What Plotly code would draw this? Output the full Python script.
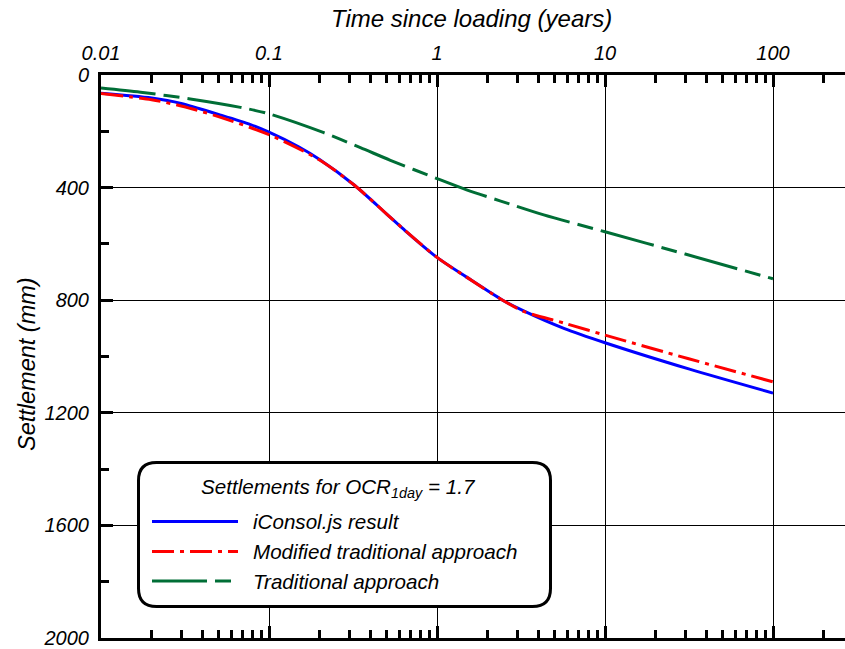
import plotly.graph_objects as go

# ---- data ----
time_iconsol = [0.01, 0.02, 0.03, 0.05, 0.0776, 0.1, 0.15, 0.2, 0.32, 0.5, 0.63, 1.0, 1.5, 2.46, 3.28, 5.69, 10, 31.5, 100]
settle_iconsol = [65, 82, 101, 140, 176, 203, 255, 300, 390, 493, 547, 648, 718, 800, 838, 900, 951, 1044, 1130]

time_modified = [0.01, 0.02, 0.03, 0.05, 0.1, 0.2, 0.32, 0.5, 0.63, 1.0, 1.5, 2.46, 3.28, 5.69, 10, 31.5, 100]
settle_modified = [66, 88, 110, 148, 212, 302, 390, 493, 547, 648, 718, 800, 840, 881, 924, 1008, 1090]

time_traditional = [0.01, 0.0172, 0.034, 0.0676, 0.1, 0.212, 0.35, 0.528, 1.0, 1.5, 2.37, 4.32, 10, 30, 100]
settle_traditional = [46, 61, 85, 115, 138, 205, 258, 303, 368, 408, 447, 497, 557, 636, 724]

x_major = [0.01, 0.1, 1, 10, 100]
x_major_text = ["0.01", "0.1", "1", "10", "100"]
y_major = [0, 400, 800, 1200, 1600, 2000]
y_minor = [200, 600, 1000, 1400, 1800]

series_names = ["iConsol.js result", "Modified traditional approach", "Traditional approach"]
legend_title = "Settlements for OCR<sub>1day</sub> = 1.7"

# ---- layout geometry ----
W, H = 845, 649
ML, MR, MT, MB = 101, 0, 75, 11
PW, PH = W - ML - MR, H - MT - MB
DECADE = 168.0
x_range = [-2, -2 + PW / DECADE]
x_minor = [m * 10 ** e for e in range(-2, 3) for m in range(2, 10) if m * 10 ** e < 10 ** x_range[1]]

FONT = "Liberation Sans"
BLUE, RED, GREEN = "#0000FF", "#FF0000", "#006E36"
DASH_RED = "22px,6px,4px,6px"
DASH_GREEN = "55px,8px,16px,8px"


def px(xp):
    return (xp - ML) / PW


def py(yp):
    return (H - MB - yp) / PH


fig = go.Figure()
fig.add_trace(go.Scatter(x=time_iconsol, y=settle_iconsol, mode="lines", name=series_names[0],
                         line=dict(color=BLUE, width=3, shape="spline", smoothing=0.8), showlegend=False))
fig.add_trace(go.Scatter(x=time_modified, y=settle_modified, mode="lines", name=series_names[1],
                         line=dict(color=RED, width=3, dash=DASH_RED, shape="spline", smoothing=0.8),
                         showlegend=False))
fig.add_trace(go.Scatter(x=time_traditional, y=settle_traditional, mode="lines", name=series_names[2],
                         line=dict(color=GREEN, width=3, dash=DASH_GREEN, shape="spline", smoothing=0.8),
                         showlegend=False))

tickfont = dict(family=FONT, size=20, style="italic", color="black")

fig.update_layout(
    width=W, height=H,
    margin=dict(l=ML, r=MR, t=MT, b=MB, pad=0),
    paper_bgcolor="white", plot_bgcolor="white",
    showlegend=False,
    xaxis=dict(type="log", range=x_range, side="top",
               tickmode="array", tickvals=x_major, ticktext=x_major_text,
               ticks="inside", ticklen=12, tickwidth=3, tickcolor="black",
               showline=True, linewidth=3, linecolor="black", mirror="allticks",
               showgrid=True, gridcolor="black", gridwidth=1, zeroline=False,
               tickfont=tickfont, ticklabelstandoff=4,
               minor=dict(tickmode="array", tickvals=x_minor, ticks="inside", ticklen=8,
                          tickwidth=3, tickcolor="black", showgrid=False)),
    yaxis=dict(range=[2000, 0], tickmode="array", tickvals=y_major,
               ticks="inside", ticklen=12, tickwidth=3, tickcolor="black",
               showline=True, linewidth=3, linecolor="black", mirror=False,
               showgrid=True, gridcolor="black", gridwidth=1, zeroline=False,
               tickfont=tickfont, ticklabelstandoff=5,
               minor=dict(tickmode="array", tickvals=y_minor, ticks="inside", ticklen=8,
                          tickwidth=3, tickcolor="black", showgrid=False)),
    yaxis2=dict(range=[2000, 0], overlaying="y", side="right", anchor="x",
                tickmode="array", tickvals=y_major, ticks="inside", ticklen=5, tickwidth=3,
                tickcolor="black", showticklabels=False, showgrid=False, showline=False,
                zeroline=False,
                minor=dict(tickmode="array", tickvals=y_minor, ticks="inside", ticklen=2,
                           tickwidth=3, tickcolor="black", showgrid=False)),
)

# axis titles
fig.add_annotation(text="Time since loading (years)", xref="paper", yref="paper",
                   x=px(471), y=py(18), showarrow=False, xanchor="center", yanchor="middle",
                   font=dict(family=FONT, size=24, style="italic", color="black"))
fig.add_annotation(text="Settlement (mm)", xref="paper", yref="paper", textangle=-90,
                   x=px(27), y=py(364), showarrow=False, xanchor="center", yanchor="middle",
                   font=dict(family=FONT, size=23.5, style="italic", color="black"))

# legend box (rounded rectangle)
bx0, bx1, by0, by1, r = 138.5, 550.5, 462.5, 606.5, 18
rx, ry = r / PW, r / PH
X0, X1, Y0, Y1 = px(bx0), px(bx1), py(by1), py(by0)
path = (f"M{X0 + rx},{Y0} L{X1 - rx},{Y0} Q{X1},{Y0} {X1},{Y0 + ry} "
        f"L{X1},{Y1 - ry} Q{X1},{Y1} {X1 - rx},{Y1} "
        f"L{X0 + rx},{Y1} Q{X0},{Y1} {X0},{Y1 - ry} "
        f"L{X0},{Y0 + ry} Q{X0},{Y0} {X0 + rx},{Y0} Z")
fig.add_shape(type="path", path=path, xref="paper", yref="paper",
              line=dict(color="black", width=3), fillcolor="white", layer="above")

fig.add_annotation(text=legend_title, xref="paper", yref="paper", x=px(338), y=py(488),
                   showarrow=False, xanchor="center", yanchor="middle",
                   font=dict(family=FONT, size=20.6, style="italic", color="black"))

legend_rows = [521.5, 551.5, 581]
legend_styles = [(BLUE, "solid"), (RED, DASH_RED), (GREEN, DASH_GREEN)]
for name, yy, (col, dash) in zip(series_names, legend_rows, legend_styles):
    fig.add_shape(type="line", xref="paper", yref="paper", x0=px(152), x1=px(238),
                  y0=py(yy), y1=py(yy), line=dict(color=col, width=3, dash=dash), layer="above")
    fig.add_annotation(text=name, xref="paper", yref="paper", x=px(251), y=py(yy),
                       showarrow=False, xanchor="left", yanchor="middle",
                       font=dict(family=FONT, size=20.6, style="italic", color="black"))

fig.write_html("out.html")
